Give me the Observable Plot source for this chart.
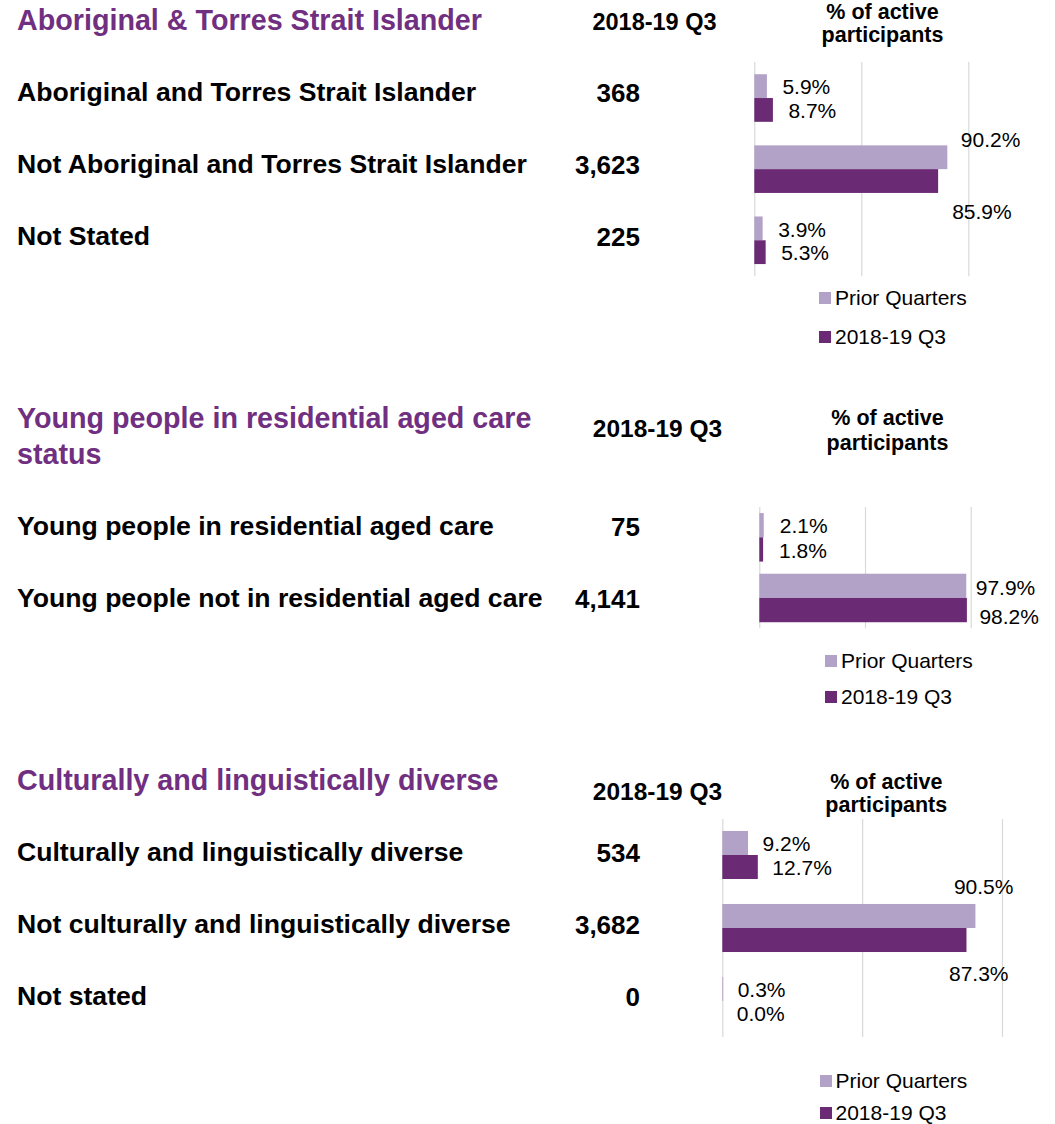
<!DOCTYPE html>
<html>
<head>
<meta charset="utf-8">
<script src="https://cdn.jsdelivr.net/npm/d3@7"></script>
<script src="https://cdn.jsdelivr.net/npm/@observablehq/plot@0.6"></script>
<style>
  html, body { margin: 0; padding: 0; background: #ffffff; }
  body { font-family: "Liberation Sans", Arial, Helvetica, sans-serif; color: #000; }
  #root { position: relative; width: 1055px; height: 1124px; overflow: hidden; background: #fff; }
  .t { position: absolute; line-height: 1.1; white-space: nowrap; transform: translateY(-50%); }
  .c { transform: translate(-50%, -50%); text-align: center; }
  .b { font-weight: bold; }
  .head { font-weight: bold; color: #702F80; font-size: 28.7px; }
  .row { font-weight: bold; font-size: 26.6px; }
  .cnt { font-weight: bold; font-size: 26px; }
  .sw { position: absolute; width: 12px; height: 12px; transform: translateY(-50%); }
  .plotwrap { position: absolute; }
  .plotwrap svg { display: block; overflow: visible; }
</style>
</head>
<body>
<div id="root"></div>
<script>
// ---------------- DATA ----------------
const seriesNames = ["Prior Quarters", "2018-19 Q3"];
const countHeader = "2018-19 Q3";
const pctHeaderLines = ["% of active", "participants"];
const gridTicks = [0, 50, 100];

const atsiTitle = ["Aboriginal & Torres Strait Islander"];
const atsiCategories = ["Aboriginal and Torres Strait Islander", "Not Aboriginal and Torres Strait Islander", "Not Stated"];
const atsiCounts = [368, 3623, 225];
const atsiPrior = [5.9, 90.2, 3.9];
const atsiCurrent = [8.7, 85.9, 5.3];

const yparcTitle = ["Young people in residential aged care", "status"];
const yparcCategories = ["Young people in residential aged care", "Young people not in residential aged care"];
const yparcCounts = [75, 4141];
const yparcPrior = [2.1, 97.9];
const yparcCurrent = [1.8, 98.2];

const caldTitle = ["Culturally and linguistically diverse"];
const caldCategories = ["Culturally and linguistically diverse", "Not culturally and linguistically diverse", "Not stated"];
const caldCounts = [534, 3682, 0];
const caldPrior = [9.2, 90.5, 0.3];
const caldCurrent = [12.7, 87.3, 0.0];

// ---------------- STYLE / LAYOUT ----------------
const LIGHT = "#B3A2C8";
const DARK = "#6B2B74";
const GRID = "#D9D9D9";
const W = 1055;
const root = document.getElementById("root");

function addText(txt, cls, x, y, opts = {}) {
  const d = document.createElement("div");
  d.className = "t " + cls;
  d.textContent = txt;
  if (opts.right !== undefined) d.style.right = (W - opts.right) + "px";
  else d.style.left = x + "px";
  d.style.top = y + "px";
  if (opts.size) d.style.fontSize = opts.size + "px";
  root.appendChild(d);
  return d;
}

function addSwatch(color, x, y) {
  const s = document.createElement("div");
  s.className = "sw";
  s.style.left = x + "px";
  s.style.top = y + "px";
  s.style.background = color;
  root.appendChild(s);
}

const fmtCount = d3.format(",");
const fmtPct = d => d3.format(".1f")(d.value) + "%";

function panel(cfg, title, categories, counts, prior, current) {
  // headings
  title.forEach((t, i) => addText(t, "head", 17, cfg.titleY[i]));
  addText(countHeader, "b c", cfg.countHeadX, cfg.countHeadY, {size: cfg.countHeadSize});
  pctHeaderLines.forEach((t, i) => addText(t, "b c", cfg.pctX, cfg.pctY[i], {size: 21.5}));
  // row labels + counts
  categories.forEach((c, i) => {
    addText(c, "row", 17, cfg.rowY[i]);
    addText(fmtCount(counts[i]), "cnt", 0, cfg.rowY[i], {right: 640});
  });
  // legend
  [LIGHT, DARK].forEach((col, i) => {
    addSwatch(col, cfg.legX, cfg.legY[i]);
    addText(seriesNames[i], "", cfg.legX + 16, cfg.legY[i], {size: 21});
  });

  // bars
  const rows = categories.flatMap((c, i) => [
    {category: c, series: seriesNames[0], value: prior[i]},
    {category: c, series: seriesNames[1], value: current[i]}
  ]);
  const n = categories.length;
  const step = cfg.h / (n - cfg.pi + 2 * cfg.po);
  const bw = step * (1 - cfg.pi);
  const width = W - cfg.left;
  const isPrior = d => d.series === seriesNames[0];
  const isSmall = d => d.value < 50;

  const chart = Plot.plot({
    width,
    height: cfg.h,
    marginLeft: cfg.zeroX - cfg.left,
    marginRight: W - cfg.fullX,
    marginTop: 0,
    marginBottom: 0,
    x: {domain: [0, 100], axis: null},
    y: {domain: categories, axis: null, paddingInner: cfg.pi, paddingOuter: cfg.po, round: false},
    color: {domain: seriesNames, range: [LIGHT, DARK]},
    style: {fontFamily: '"Liberation Sans", Arial, sans-serif', background: "transparent", overflow: "visible", color: "#000"},
    marks: [
      Plot.ruleX(gridTicks, {stroke: GRID, strokeWidth: 1.2}),
      Plot.barX(rows.filter(isPrior), {x: "value", y: "category", fill: "series", insetBottom: bw / 2}),
      Plot.barX(rows.filter(d => !isPrior(d)), {x: "value", y: "category", fill: "series", insetTop: bw / 2}),
      Plot.text(rows.filter(d => isPrior(d) && isSmall(d)), {
        x: "value", y: "category", text: fmtPct, textAnchor: "start",
        dx: cfg.smallDx, dy: -bw / 4 + 1, fontSize: 21, fill: "#000"
      }),
      Plot.text(rows.filter(d => !isPrior(d) && isSmall(d)), {
        x: "value", y: "category", text: fmtPct, textAnchor: "start",
        dx: cfg.smallDx, dy: bw / 4 + 1, fontSize: 21, fill: "#000"
      }),
      Plot.text(rows.filter(d => isPrior(d) && !isSmall(d)), {
        x: "value", y: "category", text: fmtPct, textAnchor: "start",
        dx: cfg.bigPrior.dx, dy: -bw / 4 + cfg.bigPrior.dy, fontSize: 21, fill: "#000"
      }),
      Plot.text(rows.filter(d => !isPrior(d) && !isSmall(d)), {
        x: "value", y: "category", text: fmtPct, textAnchor: "start",
        dx: cfg.bigCurrent.dx, dy: bw / 4 + cfg.bigCurrent.dy, fontSize: 21, fill: "#000"
      })
    ]
  });
  const wrap = document.createElement("div");
  wrap.className = "plotwrap";
  wrap.style.left = cfg.left + "px";
  wrap.style.top = cfg.top + "px";
  wrap.appendChild(chart);
  root.appendChild(wrap);
}

panel({
  titleY: [20.5], countHeadX: 654.5, countHeadY: 23, countHeadSize: 23.5,
  pctX: 882.5, pctY: [12.5, 36],
  rowY: [93, 165, 237],
  legX: 819, legY: [297.5, 336.5],
  left: 734, top: 61.7, h: 214.3, zeroX: 754.3, fullX: 968.3, pi: 0.331, po: 0.172,
  smallDx: 15, bigPrior: {dx: 13, dy: -17}, bigCurrent: {dx: 13.5, dy: 30.5}
}, atsiTitle, atsiCategories, atsiCounts, atsiPrior, atsiCurrent);

panel({
  titleY: [418.5, 455], countHeadX: 657.5, countHeadY: 428.5, countHeadSize: 24.5,
  pctX: 887.5, pctY: [419, 443.5],
  rowY: [526.5, 599],
  legX: 825, legY: [660.5, 696.5],
  left: 734, top: 506.7, h: 121.3, zeroX: 759.3, fullX: 970.7, pi: 0.2, po: 0.1,
  smallDx: 15.5, bigPrior: {dx: 9, dy: 1.5}, bigCurrent: {dx: 12, dy: 7}
}, yparcTitle, yparcCategories, yparcCounts, yparcPrior, yparcCurrent);

panel({
  titleY: [781], countHeadX: 657.5, countHeadY: 791.5, countHeadSize: 24.5,
  pctX: 886.3, pctY: [783.3, 806],
  rowY: [852.5, 925, 997],
  legX: 819.5, legY: [1080.5, 1113],
  left: 700, top: 819, h: 218, zeroX: 722.3, fullX: 1002, pi: 0.342, po: 0.164,
  smallDx: 14, bigPrior: {dx: -22, dy: -29}, bigCurrent: {dx: -18, dy: 33.5}
}, caldTitle, caldCategories, caldCounts, caldPrior, caldCurrent);
</script>
</body>
</html>
